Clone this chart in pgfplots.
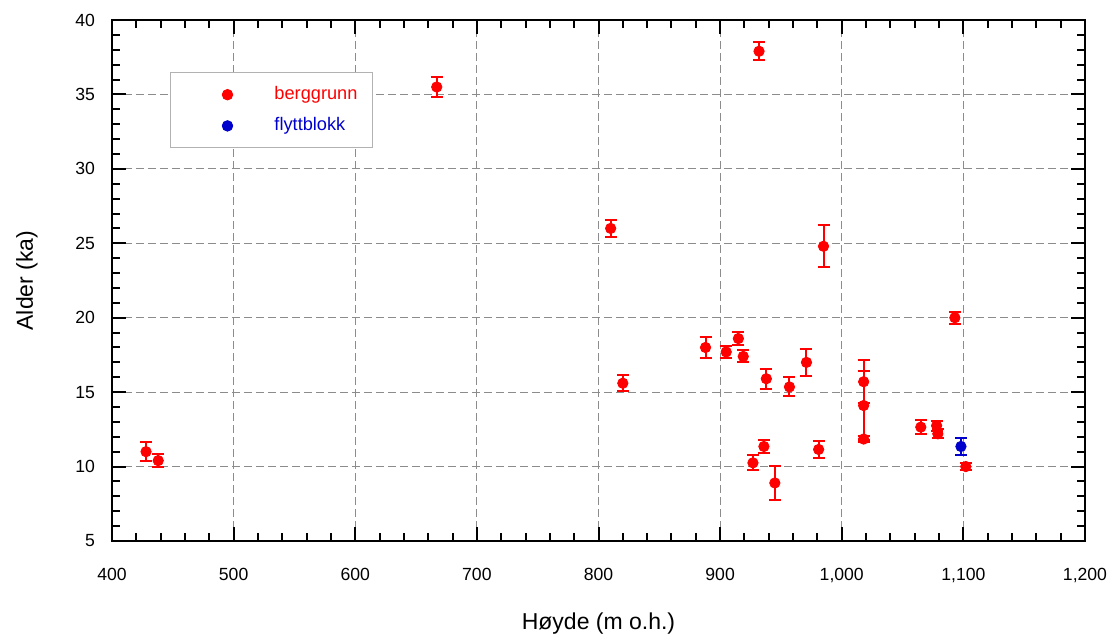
\documentclass[border=0pt]{standalone}
\usepackage{pgfplots}
\pgfplotsset{compat=1.18}
\usepackage{pgfplotstable}
\usepackage{fontspec}
\setmainfont{Liberation Sans}

\definecolor{bgred}{RGB}{255,0,0}
\definecolor{fbblue}{RGB}{0,0,204}

% Exposure ages: elevation (m a.s.l.), age (ka), 1-sigma uncertainty (ka)
\pgfplotstableread{
x     y      e
428   11.0   0.65
438   10.4   0.45
667   35.5   0.65
810   26.0   0.55
820   15.6   0.55
888   18.0   0.70
905   17.7   0.40
915   18.6   0.43
919   17.4   0.40
927   10.25  0.50
932   37.9   0.60
936   11.35  0.45
938   15.9   0.68
945   8.9    1.17
957   15.35  0.64
971   17.0   0.90
981   11.15  0.56
985   24.8   1.42
1018  15.7   1.45
1018  14.1   2.30
1018  11.85  0.20
1065  12.65  0.45
1078  12.75  0.33
1079  12.2   0.30
1093  20.0   0.40
1102  10.0   0.25
}\berggrunn

\pgfplotstableread{
x     y      e
1098  11.35  0.55
}\flyttblokk

\begin{document}
\begin{tikzpicture}
\path[use as bounding box] (-56pt,-46.5pt) rectangle (502pt,270.5pt);
\begin{axis}[
  at={(0,0)}, anchor=south west,
  scale only axis,
  width=486.5pt, height=260.5pt,
  xmin=400, xmax=1200, ymin=5, ymax=40,
  xtick={400,500,...,1200},
  ytick={5,10,...,40},
  minor x tick num=4,
  minor y tick num=4,
  tick align=inside,
  xtick pos=both, ytick pos=both,
  major tick length=7pt,
  minor tick length=4pt,
  every tick/.style={black, line width=1pt},
  axis line style={line width=1.3pt},
  grid=major,
  major grid style={gray!90, line width=0.5pt, dash pattern=on 4pt off 2pt},
  /pgf/number format/assume math mode=true,
  xticklabel style={/pgf/number format/1000 sep={,}, font=\fontsize{8.8}{10}\selectfont, yshift=-10pt},
  yticklabel style={font=\fontsize{8.8}{10}\selectfont, xshift=-5pt},
  xlabel={Høyde (m o.h.)},
  ylabel={Alder (ka)},
  every axis x label/.style={at={(axis description cs:0.5,-0.159)}, anchor=center, font=\fontsize{11.5}{13}\selectfont},
  every axis y label/.style={at={(axis description cs:-0.0874,0.5)}, anchor=center, rotate=90, font=\fontsize{11.5}{13}\selectfont},
  legend style={
    at={(0.0596,0.900)}, anchor=north west,
    draw=gray!60, line width=0.5pt,
    inner xsep=0pt, inner ysep=5pt,
    font=\fontsize{9.1}{11}\selectfont,
    row sep=3.5pt,
    /tikz/every even column/.append style={column sep=0pt},
  },
  legend cell align=left,
  legend image code/.code={
    \path[draw=none, fill=none] (0pt,0pt) -- (50pt,0pt);
    \draw plot[only marks] coordinates {(28.5pt,0pt)};
  },
]
\addplot[only marks, mark=*, mark size=2.6pt, color=bgred,
  error bars/.cd, y dir=both, y explicit,
  error bar style={line width=1pt, color=bgred},
  error mark options={line width=1pt, mark size=3pt, color=bgred, rotate=90}]
  table[x=x, y=y, y error=e] {\berggrunn};
\addlegendentry[text=bgred, text width=47pt]{berggrunn}
\addplot[only marks, mark=*, mark size=2.6pt, color=fbblue,
  error bars/.cd, y dir=both, y explicit,
  error bar style={line width=1pt, color=fbblue},
  error mark options={line width=1pt, mark size=3pt, color=fbblue, rotate=90}]
  table[x=x, y=y, y error=e] {\flyttblokk};
\addlegendentry[text=fbblue, text width=47pt]{flyttblokk}
\end{axis}
\end{tikzpicture}
\end{document}
